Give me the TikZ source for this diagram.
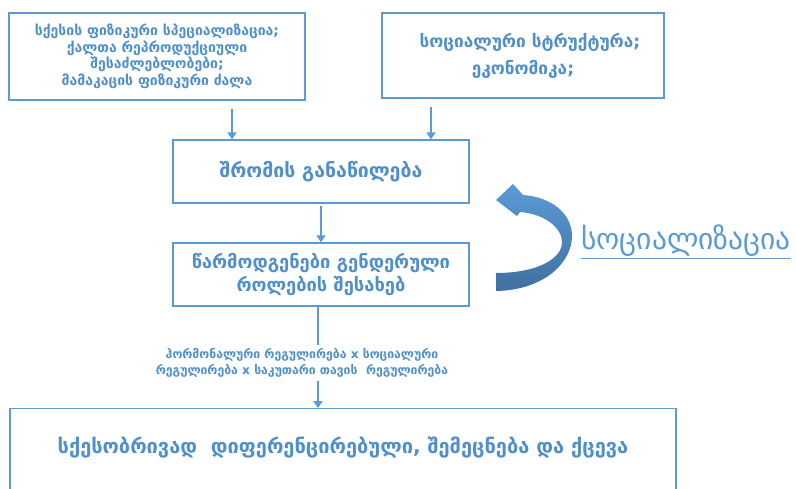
\documentclass[tikz,border=0pt]{standalone}
\usepackage{fontspec}
\setmainfont{DejaVu Sans}
\usetikzlibrary{arrows.meta}
\definecolor{bl}{HTML}{5B9BD5}
\definecolor{bltxt}{HTML}{4F8FCC}
\definecolor{bldark}{HTML}{3F70A0}
\begin{document}
\begin{tikzpicture}[x=1pt,y=-1pt,
  box/.style={draw=bl, line width=1.3pt, text=bltxt, align=center, inner sep=0pt},
  conn/.style={draw=bl, line width=2.2pt, -{Triangle[width=9pt,length=7pt]}},
  plain/.style={draw=bl, line width=2.2pt}]
\clip (0,0) rectangle (796,488);
\fill[white] (0,0) rectangle (796,488);
\node[box, minimum width=296pt, minimum height=87pt, font=\fontsize{14}{16.5}\selectfont\bfseries] (b1) at (157,56.5)
  {სქესის ფიზიკური სპეციალიზაცია;\\ქალთა რეპროდუქციული\\შესაძლებლობები;\\მამაკაცის ფიზიკური ძალა};
\node[box, minimum width=282pt, minimum height=85pt, font=\fontsize{17.2}{27}\selectfont\bfseries] (b2) at (523,55.5)
  {\hspace*{14pt}სოციალური სტრუქტურა;\\ეკონომიკა;};
\node[box, minimum width=296pt, minimum height=63pt, font=\fontsize{19.5}{23}\selectfont\bfseries] (b3) at (321,171.5)
  {შრომის განაწილება};
\node[box, minimum width=296pt, minimum height=63pt, font=\fontsize{18.3}{23}\selectfont\bfseries] (b4) at (321,274.5)
  {წარმოდგენები გენდერული\\როლების შესახებ};
\node[text=bltxt, align=center, inner sep=4pt, font=\fontsize{12.2}{15.5}\selectfont\bfseries] (lab) at (302,363)
  {ჰორმონალური რეგულირება x სოციალური\\რეგულირება x საკუთარი თავის \ რეგულირება};
\node[box, anchor=north, minimum width=666pt, text height=45pt, text depth=45pt, font=\fontsize{20}{22}\selectfont\bfseries] (b5) at (343,408)
  {სქესობრივად \ დიფერენცირებული, შემეცნება და ქცევა};
\node[text=bl, inner sep=0pt, font=\fontsize{29.5}{33}\selectfont] (soc) at (686,242) {\underline{სოციალიზაცია}};
\coordinate (xa) at (232,0);
\coordinate (xb) at (431,0);
\coordinate (xc) at (318,0);
\draw[conn, shorten <=8pt] (b1.south -| xa) -- (b3.north -| xa);
\draw[conn, shorten <=8pt] (b2.south -| xb) -- (b3.north -| xb);
\draw[conn, shorten <=2pt] (b3.south) -- (b4.north);
\draw[plain] (b4.south -| xc) -- (lab.north -| xc);
\draw[conn] (lab.south -| xc) -- (b5.north -| xc);
\shade[top color=bl, bottom color=bldark]
  (496,291) .. controls (545,290) and (572,262) .. (572,236)
  .. controls (572,214) and (552,197) .. (523,195)
  -- (513,184) -- (496,200) -- (517,216) -- (520,212)
  .. controls (545,214) and (562,228) .. (562,242)
  .. controls (562,260) and (535,273) .. (496,273) -- cycle;
\end{tikzpicture}
\end{document}
